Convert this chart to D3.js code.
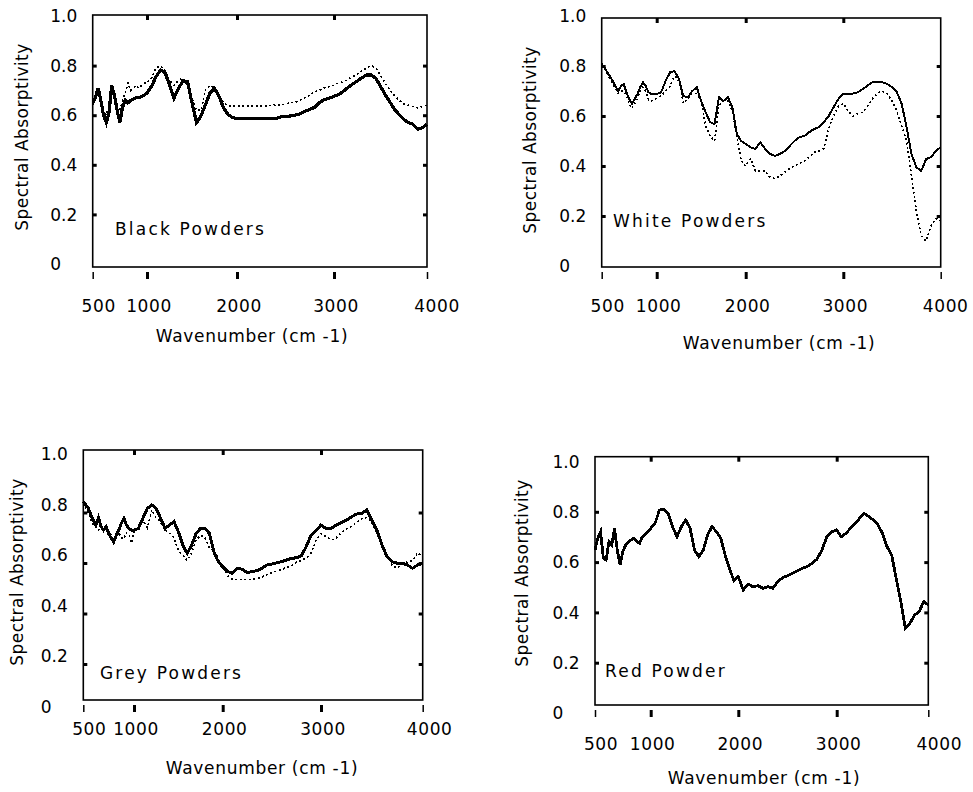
<!DOCTYPE html>
<html>
<head>
<meta charset="utf-8">
<script src="https://cdn.jsdelivr.net/npm/d3@7"></script>
<style>
  body { margin: 0; background: #fff; }
  svg text { font-family: "DejaVu Sans", sans-serif; fill: #000; }
</style>
</head>
<body>
<div id="chart"></div>
<script>
// wavenumber grid (cm-1) shared by every spectrum
const wavenumber = [500, 525, 550, 575, 600, 625, 650, 675, 700, 725, 750, 775, 800, 825, 850, 875, 900, 925, 950, 975, 1000,
  1050, 1100, 1150, 1200, 1250, 1300, 1350, 1400, 1450, 1500, 1550, 1600, 1650, 1700, 1750, 1800, 1850, 1900, 1950, 2000,
  2050, 2100, 2150, 2200, 2250, 2300, 2350, 2400, 2450, 2500, 2550, 2600, 2650, 2700, 2750, 2800, 2850, 2900, 2950, 3000,
  3050, 3100, 3150, 3200, 3250, 3300, 3350, 3400, 3450, 3500, 3550, 3600, 3650, 3700, 3750, 3800, 3850, 3900, 3950, 4000];

const xTicks = [500, 1000, 2000, 3000, 4000];
const yTicks = [0, 0.2, 0.4, 0.6, 0.8, 1.0];
const xTitle = 'Wavenumber (cm -1)';
const yTitle = 'Spectral Absorptivity';

const blackSolid = [0.65, 0.67, 0.71, 0.66, 0.60, 0.57, 0.61, 0.72, 0.68, 0.62, 0.57, 0.63, 0.66, 0.65, 0.66, 0.665, 0.67, 0.67, 0.675, 0.68, 0.69,
  0.716, 0.755, 0.782, 0.772, 0.722, 0.669, 0.709, 0.738, 0.735, 0.65, 0.57, 0.597, 0.643, 0.69, 0.709, 0.676, 0.63, 0.603, 0.59, 0.587,
  0.587, 0.587, 0.587, 0.587, 0.587, 0.587, 0.587, 0.587, 0.593, 0.595, 0.597, 0.60, 0.606, 0.616, 0.623, 0.632, 0.65, 0.663, 0.669, 0.676,
  0.683, 0.696, 0.712, 0.725, 0.738, 0.751, 0.762, 0.762, 0.749, 0.716, 0.683, 0.654, 0.623, 0.603, 0.583, 0.57, 0.563, 0.544, 0.55, 0.563];
const blackDotted = [0.64, 0.68, 0.70, 0.65, 0.61, 0.60, 0.64, 0.70, 0.67, 0.63, 0.62, 0.66, 0.69, 0.73, 0.70, 0.71, 0.72, 0.71, 0.72, 0.73, 0.73,
  0.75, 0.79, 0.80, 0.78, 0.74, 0.72, 0.74, 0.75, 0.72, 0.67, 0.62, 0.62, 0.70, 0.72, 0.71, 0.68, 0.65, 0.637, 0.636, 0.636,
  0.636, 0.636, 0.636, 0.636, 0.637, 0.638, 0.64, 0.641, 0.642, 0.645, 0.65, 0.652, 0.66, 0.67, 0.68, 0.695, 0.70, 0.71, 0.715, 0.72,
  0.73, 0.736, 0.745, 0.755, 0.765, 0.78, 0.79, 0.80, 0.79, 0.76, 0.73, 0.70, 0.68, 0.66, 0.645, 0.64, 0.635, 0.63, 0.635, 0.64];

const whiteSolid = [0.808, 0.795, 0.775, 0.76, 0.74, 0.72, 0.70, 0.72, 0.728, 0.695, 0.668, 0.648, 0.668, 0.688, 0.715, 0.735, 0.72, 0.695, 0.688, 0.688, 0.688,
  0.695, 0.74, 0.775, 0.78, 0.748, 0.68, 0.675, 0.70, 0.715, 0.66, 0.615, 0.575, 0.568, 0.675, 0.66, 0.675, 0.635, 0.528, 0.50, 0.488,
  0.475, 0.468, 0.495, 0.468, 0.448, 0.44, 0.448, 0.46, 0.48, 0.50, 0.515, 0.52, 0.535, 0.548, 0.555, 0.575, 0.60, 0.635, 0.668, 0.688,
  0.688, 0.69, 0.695, 0.708, 0.722, 0.735, 0.735, 0.735, 0.728, 0.715, 0.695, 0.648, 0.555, 0.448, 0.395, 0.38, 0.428, 0.435, 0.46, 0.475];
const whiteDotted = [0.80, 0.79, 0.77, 0.75, 0.73, 0.71, 0.69, 0.70, 0.70, 0.68, 0.65, 0.63, 0.65, 0.67, 0.70, 0.715, 0.70, 0.665, 0.66, 0.665, 0.67,
  0.68, 0.70, 0.72, 0.76, 0.74, 0.65, 0.67, 0.69, 0.69, 0.66, 0.56, 0.52, 0.50, 0.64, 0.66, 0.66, 0.62, 0.52, 0.42, 0.40,
  0.43, 0.38, 0.38, 0.38, 0.355, 0.35, 0.36, 0.375, 0.39, 0.40, 0.41, 0.42, 0.435, 0.455, 0.46, 0.47, 0.55, 0.60, 0.64, 0.65,
  0.62, 0.60, 0.61, 0.615, 0.64, 0.67, 0.69, 0.70, 0.69, 0.66, 0.62, 0.56, 0.50, 0.36, 0.22, 0.12, 0.10, 0.16, 0.19, 0.18];

const greySolid = [0.843, 0.83, 0.816, 0.79, 0.77, 0.75, 0.78, 0.744, 0.73, 0.744, 0.717, 0.698, 0.684, 0.71, 0.73, 0.757, 0.777, 0.75, 0.737, 0.73, 0.73,
  0.737, 0.777, 0.816, 0.83, 0.816, 0.777, 0.737, 0.75, 0.764, 0.724, 0.671, 0.638, 0.671, 0.717, 0.737, 0.737, 0.717, 0.645, 0.605, 0.585,
  0.566, 0.559, 0.579, 0.575, 0.562, 0.566, 0.57, 0.579, 0.592, 0.596, 0.601, 0.605, 0.612, 0.618, 0.621, 0.628, 0.665, 0.711, 0.73, 0.75,
  0.737, 0.737, 0.75, 0.76, 0.77, 0.783, 0.794, 0.797, 0.81, 0.77, 0.73, 0.671, 0.625, 0.605, 0.599, 0.599, 0.592, 0.579, 0.592, 0.599];
const greyDotted = [0.84, 0.82, 0.80, 0.77, 0.75, 0.74, 0.73, 0.75, 0.73, 0.74, 0.72, 0.71, 0.68, 0.70, 0.72, 0.70, 0.695, 0.72, 0.71, 0.68, 0.72,
  0.745, 0.77, 0.74, 0.81, 0.78, 0.76, 0.73, 0.72, 0.70, 0.65, 0.63, 0.61, 0.64, 0.69, 0.71, 0.70, 0.66, 0.65, 0.62, 0.585,
  0.55, 0.535, 0.535, 0.535, 0.535, 0.535, 0.538, 0.545, 0.553, 0.562, 0.568, 0.575, 0.582, 0.589, 0.603, 0.61, 0.62, 0.64, 0.69, 0.716,
  0.705, 0.69, 0.70, 0.72, 0.735, 0.745, 0.76, 0.775, 0.78, 0.76, 0.72, 0.67, 0.63, 0.59, 0.58, 0.595, 0.605, 0.61, 0.64, 0.625];

const redSolid = [0.648, 0.695, 0.721, 0.615, 0.608, 0.681, 0.668, 0.734, 0.648, 0.588, 0.641, 0.668, 0.681, 0.688, 0.695, 0.681, 0.675, 0.701, 0.711, 0.721, 0.734,
  0.754, 0.807, 0.811, 0.794, 0.741, 0.701, 0.741, 0.767, 0.734, 0.648, 0.622, 0.648, 0.708, 0.741, 0.721, 0.695, 0.628, 0.575, 0.525, 0.542,
  0.489, 0.512, 0.502, 0.506, 0.496, 0.502, 0.496, 0.522, 0.538, 0.546, 0.555, 0.565, 0.575, 0.582, 0.595, 0.612, 0.648, 0.701, 0.721, 0.728,
  0.701, 0.714, 0.734, 0.754, 0.774, 0.794, 0.781, 0.767, 0.748, 0.714, 0.661, 0.628, 0.535, 0.443, 0.337, 0.357, 0.39, 0.403, 0.443, 0.43];

// layout of the four scanned panels (the x axis is not linear in the original)
const panels = [
  {label: 'Black Powders', series: [blackDotted, blackSolid], solidWidth: 3.2,
   frame: [92.7, 427, 15, 267], xPos: [92.7, 147, 237, 334, 427], yRange: [264, 16],
   labelDy: 0, xLabelY: 312, lastDx: 10, titleX: 252, titleY: 342, yTitle: [22, 137], name: [115, 235]},
  {label: 'White Powders', series: [whiteDotted, whiteSolid], solidWidth: 2,
   frame: [601.7, 940.7, 18, 267], xPos: [601.7, 656.7, 745.7, 843.3, 940.7], yRange: [266, 16],
   labelDy: 0, xLabelY: 312, lastDx: 5, titleX: 779, titleY: 349, yTitle: [530, 140], name: [613, 227]},
  {label: 'Grey Powders', series: [greyDotted, greySolid], solidWidth: 3,
   frame: [83.3, 422.7, 450, 700], xPos: [83.3, 134, 222.7, 321, 422.7], yRange: [714.5, 462],
   labelDy: -8, xLabelY: 735, lastDx: 7, titleX: 262, titleY: 774, yTitle: [17.5, 572], name: [100, 679]},
  {label: 'Red Powder', series: [redSolid], solidWidth: 2.8,
   frame: [595, 928.3, 456.7, 705], xPos: [595, 650.7, 738.3, 836.7, 928.3], yRange: [713, 461.5],
   labelDy: 0, xLabelY: 750, lastDx: 11, titleX: 764, titleY: 784, yTitle: [522.5, 573], name: [605, 677]}
];

const svg = d3.select('#chart').append('svg')
    .attr('width', 973)
    .attr('height', 792);

const fmt = (d) => d === 0 ? '0' : d3.format('.1f')(d);

panels.forEach((p) => {
    const [x0, x1, y0, y1] = p.frame;
    const x = d3.scaleLinear().domain(xTicks).range(p.xPos);
    const y = d3.scaleLinear().domain([0, 1]).range(p.yRange);
    const g = svg.append('g');

    // spectra: dotted reference first, solid on top
    const line = d3.line()
        .x((d, i) => x(wavenumber[i]))
        .y((d) => y(d));

    p.series.forEach((vals, k) => {
        const dotted = p.series.length > 1 && k === 0;
        g.append('path')
            .datum(vals)
            .attr('d', line)
            .attr('fill', 'none')
            .attr('stroke', '#000')
            .attr('stroke-width', dotted ? 1.6 : p.solidWidth)
            .attr('stroke-dasharray', dotted ? '2,2.5' : null)
            .attr('stroke-linejoin', 'miter')
            .attr('shape-rendering', 'crispEdges');
    });

    // frame
    g.append('rect')
        .attr('x', x0).attr('y', y0)
        .attr('width', x1 - x0).attr('height', y1 - y0)
        .attr('fill', 'none')
        .attr('stroke', '#000')
        .attr('stroke-width', 1.6);

    // inner ticks on left / right / top
    const inner = [0.2, 0.4, 0.6, 0.8];
    g.append('g').attr('transform', 'translate(' + x0 + ',0)')
        .call(d3.axisRight(y).tickValues(inner).tickSize(4).tickFormat(''));
    g.append('g').attr('transform', 'translate(' + x1 + ',0)')
        .call(d3.axisLeft(y).tickValues(inner).tickSize(4).tickFormat(''));
    g.append('g').attr('transform', 'translate(0,' + y0 + ')')
        .call(d3.axisBottom(x).tickValues([1000, 2000, 3000]).tickSize(5).tickFormat(''));

    // bottom ticks hang below the frame
    g.append('g').attr('class', 'bt').attr('transform', 'translate(0,' + (y1 + 5) + ')')
        .call(d3.axisBottom(x).tickValues(xTicks).tickSize(7).tickFormat(''));
    g.selectAll('.bt .tick line')
        .attr('stroke-width', (d) => (d === 500 || d === 4000) ? 1.5 : 3);

    g.selectAll('.domain').remove();
    g.selectAll('.tick line').filter(function () { return !this.getAttribute('stroke-width'); })
        .attr('stroke-width', 3);

    // y tick labels, left aligned
    g.selectAll('.ylab')
        .data(yTicks)
        .enter().append('text')
        .attr('class', 'ylab')
        .attr('x', x0 - 42.5)
        .attr('y', (d) => y(d) + p.labelDy)
        .attr('dy', '0.36em')
        .attr('font-size', 17)
        .text(fmt);

    // x tick labels
    g.selectAll('.xlab')
        .data(xTicks)
        .enter().append('text')
        .attr('class', 'xlab')
        .attr('x', (d) => x(d) + (d === 500 ? 6 : d === 4000 ? p.lastDx : 2))
        .attr('y', p.xLabelY)
        .attr('text-anchor', 'middle')
        .attr('font-size', 17)
        .attr('letter-spacing', 0.6)
        .text((d) => d);

    g.append('text')
        .attr('x', p.titleX).attr('y', p.titleY)
        .attr('text-anchor', 'middle')
        .attr('font-size', 17)
        .attr('letter-spacing', 0.7)
        .text(xTitle);

    g.append('text')
        .attr('transform', 'translate(' + p.yTitle[0] + ',' + p.yTitle[1] + ') rotate(-90)')
        .attr('text-anchor', 'middle')
        .attr('dy', '0.35em')
        .attr('font-size', 17)
        .attr('letter-spacing', 0.45)
        .text(yTitle);

    g.append('text')
        .attr('x', p.name[0]).attr('y', p.name[1])
        .attr('font-size', 17)
        .attr('letter-spacing', 2.2)
        .text(p.label);
});
</script>
</body>
</html>
